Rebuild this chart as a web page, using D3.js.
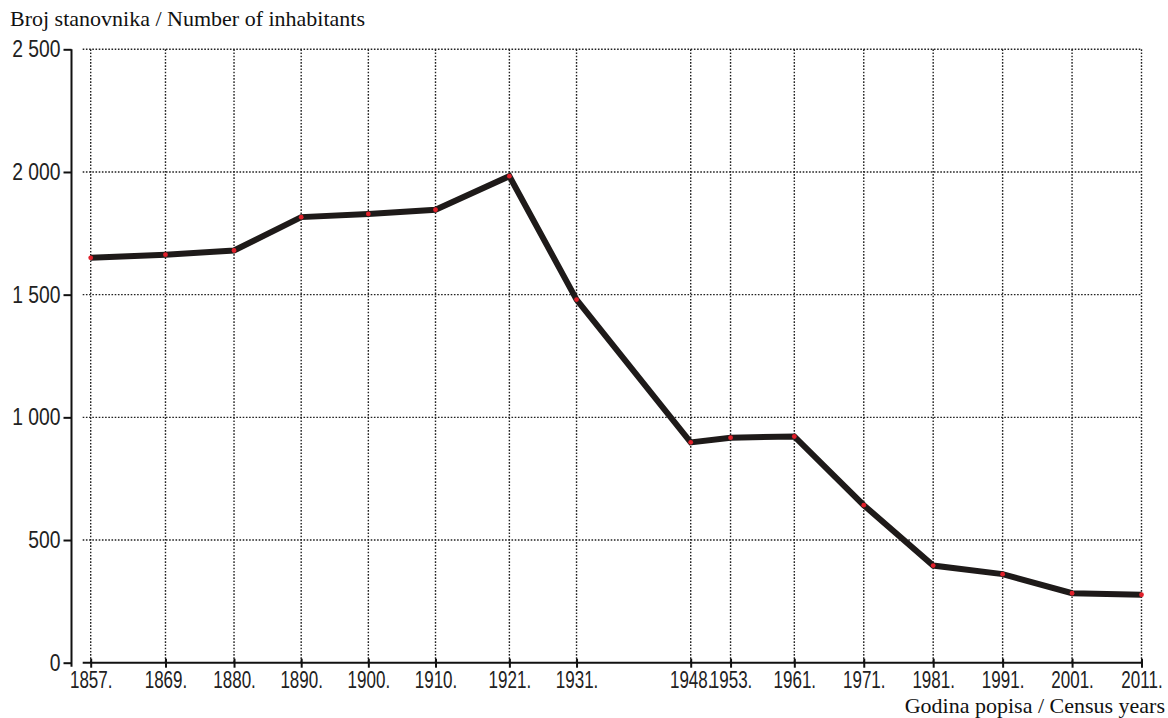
<!DOCTYPE html>
<html>
<head>
<meta charset="utf-8">
<script src="https://cdn.jsdelivr.net/npm/d3@7"></script>
<style>
  html, body { margin: 0; padding: 0; background: #fff; }
  svg { display: block; }
</style>
</head>
<body>
<svg id="chart" width="1168" height="718"></svg>
<script>
// ---- data ----
const years = [1857, 1869, 1880, 1890, 1900, 1910, 1921, 1931, 1948, 1953, 1961, 1971, 1981, 1991, 2001, 2011];
const inhabitants = [1650, 1663, 1680, 1816, 1829, 1846, 1983, 1480, 898, 917, 922, 642, 396, 361, 283, 277];
const yTicks = [0, 500, 1000, 1500, 2000, 2500];
const yTitle = "Broj stanovnika / Number of inhabitants";
const xTitle = "Godina popisa / Census years";

// ---- layout ----
const svg = d3.select("#chart");
const plotLeft = 90.7, plotRight = 1141.5, plotTop = 49.3, plotBottom = 662.7;
const yAxisX = 71.5, xAxisStart = 82.7;
// the original axis spacing is uneven: piecewise linear year scale
const xBreakYears = [1857, 1880, 1948, 1961, 2011];
const xBreakFrac = [0, 0.1364, 0.571, 0.6696, 1];

const x = d3.scaleLinear()
  .domain(xBreakYears)
  .range(xBreakFrac.map(f => plotLeft + f * (plotRight - plotLeft)));
const y = d3.scaleLinear().domain([0, 2500]).range([plotBottom, plotTop]);

const numFmt = v => {
  const s = String(v);
  return s.length > 3 ? s.slice(0, s.length - 3) + " " + s.slice(-3) : s;
};
const tickFont = "'Liberation Sans', Arial, sans-serif";
const titleFont = "'Liberation Serif', 'Times New Roman', serif";
const narrowX = 0.74, narrowY = 0.84;

// ---- grid ----
const grid = svg.append("g").attr("class", "grid")
  .attr("stroke", "#222").attr("stroke-width", 1.4).attr("stroke-dasharray", "1.6,1.6");
grid.selectAll("line.h").data(yTicks.filter(d => d > 0)).join("line")
  .attr("class", "h")
  .attr("x1", xAxisStart).attr("x2", x(years[years.length - 1]))
  .attr("y1", d => y(d)).attr("y2", d => y(d));
grid.selectAll("line.v").data(years).join("line")
  .attr("class", "v")
  .attr("x1", d => x(d)).attr("x2", d => x(d))
  .attr("y1", y(2500)).attr("y2", y(0));

// ---- y axis ----
const yAxis = svg.append("g")
  .attr("transform", `translate(${yAxisX},0)`)
  .call(d3.axisLeft(y).tickValues(yTicks).tickSize(8).tickSizeOuter(0).tickPadding(3).tickFormat(numFmt));
yAxis.select(".domain").attr("d", `M0,${y(2500)}V${y(0) + 4}`).attr("stroke", "#111").attr("stroke-width", 2);
yAxis.selectAll(".tick line").attr("stroke", "#111").attr("stroke-width", 2);
yAxis.selectAll(".tick text")
  .attr("x", -11 / narrowY)
  .attr("transform", `scale(${narrowY},1)`)
  .attr("font-family", tickFont).attr("font-size", 23).attr("fill", "#222");

// ---- x axis ----
const xAxis = svg.append("g").attr("transform", `translate(0,${y(0)})`)
  .call(d3.axisBottom(x).tickValues(years).tickSize(5).tickSizeOuter(0).tickPadding(4).tickFormat(d => d + "."));
xAxis.select(".domain").attr("d", `M${xAxisStart},0H${x(2011)}`).attr("stroke", "#111").attr("stroke-width", 2);
xAxis.selectAll(".tick line").attr("y1", -4).attr("y2", 5).attr("stroke", "#111").attr("stroke-width", 2);
xAxis.selectAll(".tick text")
  .attr("transform", `scale(${narrowX},1)`)
  .attr("font-family", tickFont).attr("font-size", 23).attr("fill", "#222");

// ---- line ----
const pts = years.map((yr, i) => ({ yr, v: inhabitants[i] }));
svg.append("path")
  .datum(pts)
  .attr("fill", "none")
  .attr("stroke", "#1e1a19")
  .attr("stroke-width", 6)
  .attr("stroke-linejoin", "miter")
  .attr("d", d3.line().x(d => x(d.yr)).y(d => y(d.v)));

svg.append("g").selectAll("circle").data(pts).join("circle")
  .attr("cx", d => x(d.yr)).attr("cy", d => y(d.v)).attr("r", 2.4)
  .attr("fill", "#e0202a");

// ---- titles ----
svg.append("text").attr("x", 10).attr("y", 26)
  .attr("font-family", titleFont).attr("font-size", 22).attr("fill", "#111")
  .text(yTitle);
svg.append("text").attr("x", 1165).attr("y", 713).attr("text-anchor", "end")
  .attr("font-family", titleFont).attr("font-size", 22).attr("fill", "#111")
  .text(xTitle);
</script>
</body>
</html>
